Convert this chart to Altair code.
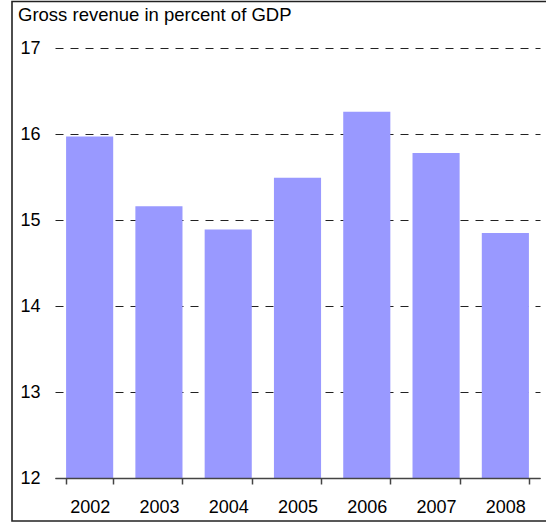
import altair as alt
import pandas as pd

years = ["2002", "2003", "2004", "2005", "2006", "2007", "2008"]
revenue = [15.97, 15.16, 14.89, 15.49, 16.26, 15.78, 14.85]
y_ticks = [12, 13, 14, 15, 16, 17]
title_text = "Gross revenue in percent of GDP"

df = pd.DataFrame({"year": years, "value": revenue})
one = pd.DataFrame({"t": [title_text]})

W, H = 485, 430
FONT = "Liberation Sans"

bars = alt.Chart(df).mark_bar(color="#9999FF").encode(
    x=alt.X("year:O", sort=years,
            scale=alt.Scale(paddingInner=0.32, paddingOuter=0.16),
            axis=alt.Axis(title=None, labelAngle=0, tickBand="extent",
                          domainColor="#444444", domainWidth=1.5,
                          tickColor="#444444", tickWidth=1.5, tickSize=6,
                          labelBaseline="alphabetic", labelPadding=28,
                          labelFont=FONT, labelFontSize=18, labelColor="black",
                          grid=False, zindex=1)),
    y=alt.Y("value:Q", scale=alt.Scale(domain=[12, 17], nice=False, zero=False),
            axis=alt.Axis(title=None, values=y_ticks, domain=False, ticks=False,
                          labelPadding=15, labelFont=FONT, labelFontSize=18,
                          labelColor="black", labelBaseline="middle",
                          grid=True, gridColor="#222222", gridWidth=1,
                          gridDash=[8, 7])),
    y2=alt.datum(12),
)

frame = alt.Chart(one).mark_rect(fillOpacity=0, stroke="#222222", strokeWidth=1.6).encode(
    x=alt.value(-43), x2=alt.value(500), y=alt.value(-46.5), y2=alt.value(473)
)

title = alt.Chart(one).mark_text(align="left", baseline="alphabetic", font=FONT,
                                 fontSize=18.5, color="black").encode(
    x=alt.value(-37), y=alt.value(-27), text="t:N"
)

chart = alt.layer(bars, frame, title).properties(
    width=W, height=H,
    background="white",
    autosize=alt.AutoSizeParams(type="none"),
    padding={"left": 55, "top": 48, "right": 6, "bottom": 45},
).configure_view(strokeWidth=0, stroke="transparent")

chart.save("out.html", embed_options={"renderer": "svg", "actions": False})
